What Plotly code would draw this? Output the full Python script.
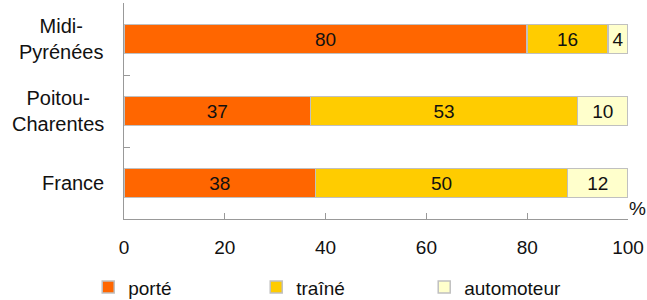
import plotly.graph_objects as go

categories = ["Midi-<br>Pyrénées", "Poitou-<br>Charentes", "France"]
porte = [80, 37, 38]
traine = [16, 53, 50]
automoteur = [4, 10, 12]
series_names = ["porté", "traîné", "automoteur"]
series_colors = ["#FF6600", "#FFCC00", "#FFFFCC"]
x_ticks = [0, 20, 40, 60, 80, 100]

FONT = "Liberation Sans, Arial, sans-serif"
FS = 19
fig = go.Figure()
for name, vals, col in zip(series_names, [porte, traine, automoteur], series_colors):
    fig.add_trace(go.Bar(
        y=categories, x=vals, name=name, orientation="h",
        marker=dict(color=col, line=dict(color="#C0C0C0", width=1.5)),
        text=[str(v) for v in vals], textposition="inside",
        insidetextanchor="middle", textangle=0,
        textfont=dict(color="#111111", size=FS, family=FONT),
        hoverinfo="skip",
    ))

for c in categories:
    fig.add_annotation(x=-0.036, xref="paper", y=c, yref="y", text=c,
                       showarrow=False, xanchor="right", align="center",
                       font=dict(size=FS + 1, color="#111111", family=FONT))

fig.add_annotation(x=1.0, xref="paper", y=0.0, yref="paper", text="%",
                   showarrow=False, xanchor="left", yanchor="bottom",
                   xshift=-1, yshift=-2,
                   font=dict(size=FS, color="#111111", family=FONT))

fig.update_layout(
    width=647, height=300,
    margin=dict(l=124, r=19, t=3, b=81, autoexpand=False),
    barmode="stack", bargap=0.6,
    plot_bgcolor="white", paper_bgcolor="white",
    font=dict(family=FONT, size=FS, color="#111111"),
    showlegend=True,
    legend=dict(orientation="h", x=-0.071, xanchor="left", y=-0.228, yanchor="top",
                entrywidth=123, entrywidthmode="pixels", traceorder="normal",
                font=dict(size=FS, family=FONT, color="#111111"),
                itemwidth=30),
    xaxis=dict(range=[0, 100], tickvals=x_ticks, ticks="inside", ticklen=6,
               tickcolor="#999999", showline=True, linecolor="#999999",
               linewidth=1, showgrid=False, zeroline=False, automargin=False,
               ticklabelstandoff=11, tickfont=dict(size=FS)),
    yaxis=dict(autorange="reversed", showticklabels=False, ticks="inside",
               ticklen=6, tickcolor="#999999", tickson="boundaries", automargin=False,
               showline=True, linecolor="#999999", linewidth=1, showgrid=False),
)
fig.write_html("out.html", config={"displayModeBar": False},
               post_script="document.body.style.margin='0';")
